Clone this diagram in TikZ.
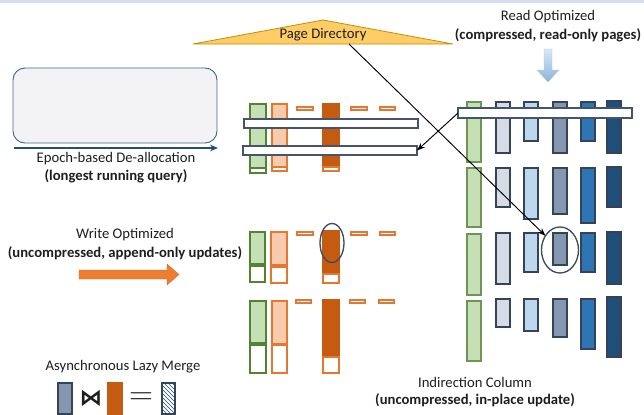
\documentclass[tikz,border=0pt]{standalone}
\usepackage{fontspec}
\setmainfont{Carlito}
\newfontfamily\djv{DejaVu Sans}
\usetikzlibrary{arrows.meta,patterns,shadows,shapes.geometric}
\definecolor{lav}{RGB}{218,218,242}
\definecolor{grF}{RGB}{197,224,180}
\definecolor{grD}{RGB}{84,130,53}
\definecolor{loF}{RGB}{248,203,173}
\definecolor{loD}{RGB}{227,120,50}
\definecolor{doF}{RGB}{197,90,17}
\definecolor{hbD}{RGB}{68,84,106}
\definecolor{cA}{RGB}{214,220,229}
\definecolor{cB}{RGB}{189,215,238}
\definecolor{cC}{RGB}{132,151,176}
\definecolor{cD}{RGB}{46,117,182}
\definecolor{cE}{RGB}{31,78,121}
\definecolor{triF}{RGB}{255,204,102}
\definecolor{triD}{RGB}{191,144,0}
\definecolor{epF}{RGB}{243,243,246}
\definecolor{epD}{RGB}{68,100,140}
\definecolor{epA}{RGB}{38,78,125}
\definecolor{orA}{RGB}{237,125,49}
\definecolor{txt}{RGB}{30,30,30}
\newcommand\bx[6]{\node[#2,anchor=north west,minimum width={(#5-#3)*0.75pt},minimum height={(#6-#4)*0.75pt}] (#1) at (#3,#4) {};}
\begin{document}
\begin{tikzpicture}[x=0.75pt,y=-0.75pt,
  font=\fontsize{11}{13}\selectfont, text=txt,
  box/.style={draw,inner sep=0pt,outer sep=0pt,line width=0.8pt},
  gr/.style={box,fill=grF,draw=grD},
  lo/.style={box,fill=loF,draw=loD},
  do/.style={box,fill=doF,draw=doF},
  dsh/.style={box,fill=white,draw=loD},
  wg/.style={box,fill=white,draw=grD},
  wo/.style={box,fill=white,draw=loD},
  hb/.style={box,fill=white,draw=hbD,line width=1pt},
  rc/.style={box,draw=hbD!80!black,line width=0.9pt},
  rg/.style={box,fill=grF,draw=grD!85!white},
  ell/.style={draw=hbD!90!black,line width=1pt,ellipse,inner sep=0pt,outer sep=0pt},
  con/.style={draw=black,line width=0.7pt,-{Stealth[length=6pt,width=4.5pt]}},
  lbl/.style={inner sep=0pt,align=center},
  bl/.style={lbl,font=\fontsize{11}{13}\selectfont\bfseries}
]
\useasboundingbox (0,0) rectangle (644,415);
\fill[lav] (0,0) rectangle (644,2.5);

% Page directory
\draw[fill=triF,draw=triD,line width=0.6pt] (193,44) -- (323,20) -- (453,44) -- cycle;
\node[lbl] (pd) at (323,35) {Page Directory};
\coordinate (pdb) at (349,44);

% Read optimized
\node[lbl] (ro1) at (548,17) {Read Optimized};
\node[bl] (ro2) at (548,35) {(compressed, read-only pages)};
\shade[top color=cB!60!white,bottom color=cD!55!white,draw=cD!40!white,line width=0.3pt]
  (544,49) -- (552,49) -- (552,70) -- (559,70) -- (548,82) -- (537,70) -- (544,70) -- cycle;

% Epoch
\node[box,draw=epD,fill=epF,line width=0.7pt,rounded corners=9pt,anchor=north west,
  minimum width={204*0.75pt},minimum height={75*0.75pt}] (ep) at (13,68) {};
\coordinate (epa) at (14,148);
\coordinate (epb) at (218,148);
\draw[epA,line width=1.1pt,-{Stealth[length=6pt,width=5pt]}] (epa) -- (epb);
\node[lbl] (et1) at (116,159) {Epoch-based De-allocation};
\node[bl] (et2) at (116,176) {(longest running query)};

% Write optimized
\node[lbl] (wo1) at (125,235) {Write Optimized};
\node[bl] (wo2) at (125,253) {(uncompressed, append-only updates)};
\fill[orA,draw=orA!85!black,line width=0.3pt] (79,270) -- (167,270) -- (167,264) -- (179,274.5) -- (167,285) -- (167,279) -- (79,279) -- cycle;

% Left group 1
\bx{g1}{gr}{250}{104}{266}{168}
\bx{g1w}{wg}{250}{168}{266}{173}
\bx{o1}{lo}{272}{104}{287}{167}
\bx{o1w}{wo}{272}{167}{287}{171}
\bx{d1}{do}{323}{104}{339}{167}
\bx{d1w}{wo}{323}{167}{339}{171}
\bx{s1a}{dsh}{297}{107}{313}{110}
\bx{s1b}{dsh}{351}{107}{367}{110}
\bx{s1c}{dsh}{380}{107}{395}{110}
\bx{hL1}{hb}{244}{119}{418}{128}
\bx{hL2}{hb}{243}{146}{417}{155}

% Left group 2
\bx{g2}{gr}{250}{232}{265}{264}
\bx{g2w}{wg}{250}{266}{265}{282}
\bx{o2}{lo}{271}{232}{287}{265}
\bx{o2w}{wo}{271}{267}{287}{283}
\bx{d2}{do}{323}{231}{339}{272}
\bx{d2w}{wo}{323}{274}{339}{283}
\bx{s2a}{dsh}{297}{232}{313}{235}
\bx{s2b}{dsh}{351}{232}{367}{235}
\bx{s2c}{dsh}{380}{232}{395}{235}
\node[ell,minimum width={24*0.75pt},minimum height={39*0.75pt}] (el1) at (332,243) {};

% Left group 3
\bx{g3}{gr}{250}{301}{266}{343}
\bx{g3w}{wg}{250}{345}{266}{373}
\bx{o3}{lo}{272}{301}{287}{344}
\bx{o3w}{wo}{272}{345}{287}{373}
\bx{d3}{do}{323}{300}{339}{356}
\bx{d3w}{wo}{323}{357}{339}{373}
\bx{s3a}{dsh}{296}{300}{311}{303}
\bx{s3b}{dsh}{350}{300}{365}{303}
\bx{s3c}{dsh}{379}{300}{394}{303}

% Right grid
\bx{r1a}{rg}{467}{102}{481}{162}
\bx{r2a}{rg}{467}{168}{481}{227}
\bx{r3a}{rg}{467}{234}{481}{295}
\bx{r4a}{rg}{467}{301}{481}{361}

\bx{r1b}{rc,fill=cA}{496}{102}{510}{153}
\bx{r1c}{rc,fill=cB}{524}{102}{538}{141}
\bx{r1d}{rc,fill=cC}{553}{102}{567}{153}
\bx{r1e}{rc,fill=cD}{581}{102}{595}{141}
\bx{r1f}{rc,fill=cE}{607}{101}{621}{153}

\bx{r2b}{rc,fill=cA}{496}{168}{510}{207}
\bx{r2c}{rc,fill=cB}{524}{168}{538}{219}
\bx{r2d}{rc,fill=cC}{553}{168}{567}{214}
\bx{r2e}{rc,fill=cD}{581}{168}{595}{223}
\bx{r2f}{rc,fill=cE}{607}{167}{621}{207}

\bx{r3b}{rc,fill=cA}{496}{233}{510}{284}
\bx{r3c}{rc,fill=cB}{524}{233}{538}{272}
\bx{r3d}{rc,fill=cC}{553}{233}{567}{265}
\bx{r3e}{rc,fill=cD}{581}{233}{595}{272}
\bx{r3f}{rc,fill=cE}{607}{232}{621}{284}

\bx{r4b}{rc,fill=cA}{496}{299}{510}{327}
\bx{r4c}{rc,fill=cB}{524}{299}{538}{331}
\bx{r4d}{rc,fill=cC}{553}{299}{567}{337}
\bx{r4e}{rc,fill=cD}{581}{299}{595}{349}
\bx{r4f}{rc,fill=cE}{607}{297}{621}{357}

\bx{hR}{hb}{458}{108}{632}{118}
\node[ell,minimum width={37*0.75pt},minimum height={46*0.75pt}] (el2) at (560,250) {};

% connectors
\draw[con] (pdb) -- (el2);
\draw[con] (hR.west) -- (hL2.east);

% Indirection column
\node[lbl] (ic1) at (475,382) {Indirection Column};
\node[bl] (ic2) at (475,400) {(uncompressed, in-place update)};

% Lazy merge
\node[lbl] (lm) at (123,367) {Asynchronous Lazy Merge};
\bx{mA}{rc,fill=cC}{58}{383}{72}{414}
\node[inner sep=0pt] (bow) at (91,398) {\djv\bfseries\fontsize{17}{17}\selectfont ⋈};
\bx{mB}{do}{108}{383}{122}{414}
\node[inner sep=0pt] (eq) at (141,399) {\fontsize{28}{28}\selectfont$=$};
\bx{mC}{rc,preaction={fill=white},pattern=north west lines,pattern color=cE}{162}{383}{175}{414}
\end{tikzpicture}
\end{document}
